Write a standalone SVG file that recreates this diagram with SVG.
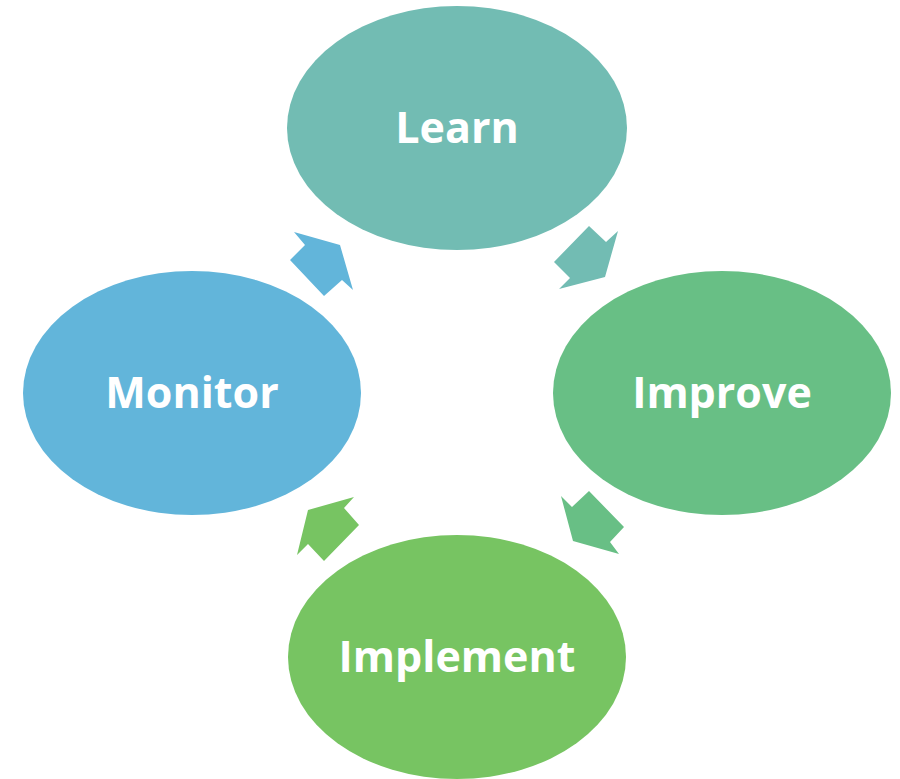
<svg xmlns="http://www.w3.org/2000/svg" width="900" height="779" viewBox="0 0 900 779">
<style>
.lbl{font-family:"Open Sans","Noto Sans",sans-serif;font-weight:bold;font-size:43px;fill:#ffffff;text-anchor:middle}
</style>
<rect width="900" height="779" fill="#ffffff"/>
<g id="connectors">
<polygon points="589,226 606,242 618,231 605,277 559,289 570,278 554,262" fill="#72BCB3"/>
<polygon points="589,491 624,527 610,542 619,554 573,541 561,496 572,507" fill="#68BF85"/>
<polygon points="354,497 344,508 359,525 324,561 308,544 297,555 308,510" fill="#77C462"/>
<polygon points="294,232 340,245 353,290 342,280 324,296 290,260 305,245" fill="#62B5DA"/>
</g>
<g id="learn"><ellipse cx="457" cy="128" rx="170" ry="122" fill="#72BCB3"/><text class="lbl" x="457" y="143">Learn</text></g>
<g id="improve"><ellipse cx="722" cy="393" rx="169" ry="122" fill="#68BF85"/><text class="lbl" x="722" y="408">Improve</text></g>
<g id="implement"><ellipse cx="457" cy="657" rx="169" ry="122" fill="#77C462"/><text class="lbl" x="457" y="672">Implement</text></g>
<g id="monitor"><ellipse cx="192" cy="393" rx="169" ry="122" fill="#62B5DA"/><text class="lbl" x="192" y="408">Monitor</text></g>
</svg>
